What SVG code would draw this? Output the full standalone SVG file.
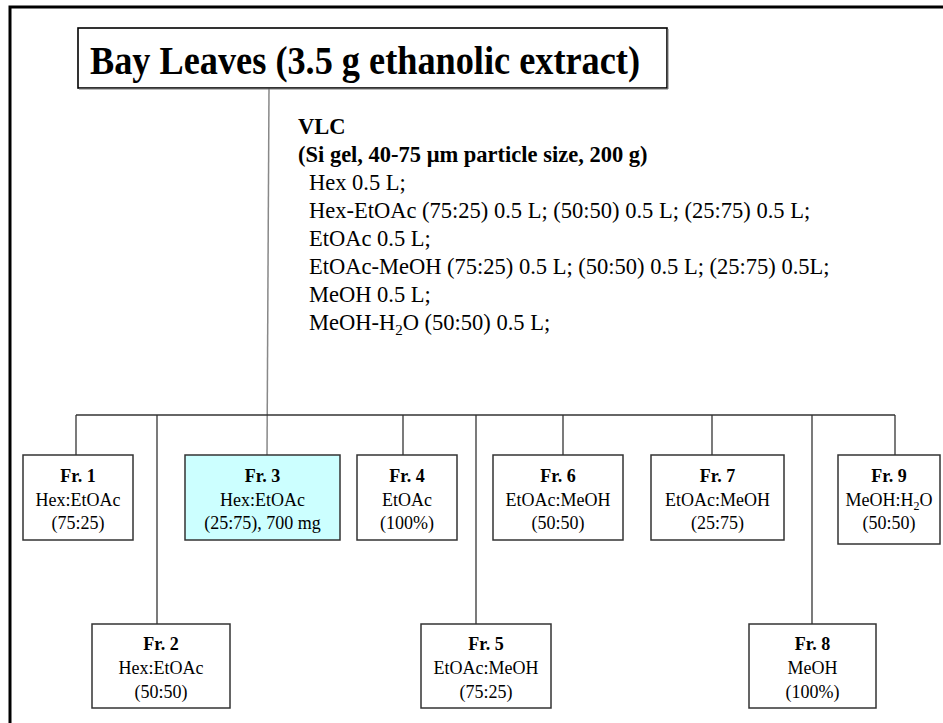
<svg xmlns="http://www.w3.org/2000/svg" width="943" height="723" viewBox="0 0 943 723">
<style>
  .t { font-family: "Liberation Serif", "Times New Roman", serif; fill: #000; }
  .b { font-weight: bold; }
  .lab { font-size: 22.5px; }
  .fr { font-size: 18px; text-anchor: middle; }
  .box { fill: #fff; stroke: #333; stroke-width: 1.5; }
  .hl { fill: #ccffff; }
  .con { stroke: #333; stroke-width: 1.3; fill: none; }
  .main { stroke: #888; stroke-width: 1.5; fill: none; }
</style>
<rect x="0" y="0" width="943" height="723" fill="#fff"/>
<path d="M10 730 V7 H950" fill="none" stroke="#000" stroke-width="3"/>

<g id="connectors">
  <path class="main" d="M269 88 L267 455"/>
  <path class="con" d="M76 415 H895"/>
  <path class="con" d="M76 415 V455"/>
  <path class="con" d="M157 415 V624"/>
  <path class="con" d="M403 415 V455"/>
  <path class="con" d="M476 415 V624"/>
  <path class="con" d="M563 415 V455"/>
  <path class="con" d="M712 415 V455"/>
  <path class="con" d="M812 415 V624"/>
  <path class="con" d="M895 415 V455"/>
</g>

<g id="title">
  <rect x="78" y="28" width="589" height="60" fill="#fff" stroke="#000" stroke-width="1.6"/>
  <path d="M79 89 H668 V29" fill="none" stroke="#777" stroke-width="1"/>
  <text class="t b" x="90" y="74" font-size="40" textLength="550" lengthAdjust="spacingAndGlyphs">Bay Leaves (3.5 g ethanolic extract)</text>
</g>

<g id="vlc">
  <text class="t b lab" x="298" y="134">VLC</text>
  <text class="t b lab" x="298" y="162">(Si gel, 40-75 μm particle size, 200 g)</text>
  <text class="t lab" x="309" y="190">Hex 0.5 L;</text>
  <text class="t lab" x="309" y="218">Hex-EtOAc (75:25) 0.5 L; (50:50) 0.5 L; (25:75) 0.5 L;</text>
  <text class="t lab" x="309" y="246">EtOAc 0.5 L;</text>
  <text class="t lab" x="309" y="274">EtOAc-MeOH (75:25) 0.5 L; (50:50) 0.5 L; (25:75) 0.5L;</text>
  <text class="t lab" x="309" y="302">MeOH 0.5 L;</text>
  <text class="t lab" x="309" y="330">MeOH-H<tspan font-size="15" dy="5">2</tspan><tspan dy="-5">O (50:50) 0.5 L;</tspan></text>
</g>

<g id="fr1">
  <rect class="box" x="23" y="455" width="110" height="85"/>
  <text class="t fr b" x="78" y="482">Fr. 1</text>
  <text class="t fr" x="78" y="506">Hex:EtOAc</text>
  <text class="t fr" x="78" y="529">(75:25)</text>
</g>
<g id="fr2">
  <rect class="box" x="92" y="624" width="138" height="84"/>
  <text class="t fr b" x="161" y="650">Fr. 2</text>
  <text class="t fr" x="161" y="674">Hex:EtOAc</text>
  <text class="t fr" x="161" y="698">(50:50)</text>
</g>
<g id="fr3">
  <rect class="box hl" x="185" y="455" width="155" height="85"/>
  <text class="t fr b" x="262.5" y="482">Fr. 3</text>
  <text class="t fr" x="262.5" y="506">Hex:EtOAc</text>
  <text class="t fr" x="262.5" y="529">(25:75), 700 mg</text>
</g>
<g id="fr4">
  <rect class="box" x="357" y="455" width="100" height="85"/>
  <text class="t fr b" x="407" y="482">Fr. 4</text>
  <text class="t fr" x="407" y="506">EtOAc</text>
  <text class="t fr" x="407" y="529">(100%)</text>
</g>
<g id="fr5">
  <rect class="box" x="421" y="624" width="130" height="84"/>
  <text class="t fr b" x="486" y="650">Fr. 5</text>
  <text class="t fr" x="486" y="674">EtOAc:MeOH</text>
  <text class="t fr" x="486" y="698">(75:25)</text>
</g>
<g id="fr6">
  <rect class="box" x="493" y="455" width="130" height="85"/>
  <text class="t fr b" x="558" y="482">Fr. 6</text>
  <text class="t fr" x="558" y="506">EtOAc:MeOH</text>
  <text class="t fr" x="558" y="529">(50:50)</text>
</g>
<g id="fr7">
  <rect class="box" x="651" y="455" width="133" height="85"/>
  <text class="t fr b" x="717.5" y="482">Fr. 7</text>
  <text class="t fr" x="717.5" y="506">EtOAc:MeOH</text>
  <text class="t fr" x="717.5" y="529">(25:75)</text>
</g>
<g id="fr8">
  <rect class="box" x="749" y="624" width="127" height="84"/>
  <text class="t fr b" x="812.5" y="650">Fr. 8</text>
  <text class="t fr" x="812.5" y="674">MeOH</text>
  <text class="t fr" x="812.5" y="698">(100%)</text>
</g>
<g id="fr9">
  <rect class="box" x="838" y="455" width="102" height="89"/>
  <text class="t fr b" x="889" y="482">Fr. 9</text>
  <text class="t fr" x="889" y="506">MeOH:H<tspan font-size="12" dy="4">2</tspan><tspan dy="-4">O</tspan></text>
  <text class="t fr" x="889" y="529">(50:50)</text>
</g>
</svg>
